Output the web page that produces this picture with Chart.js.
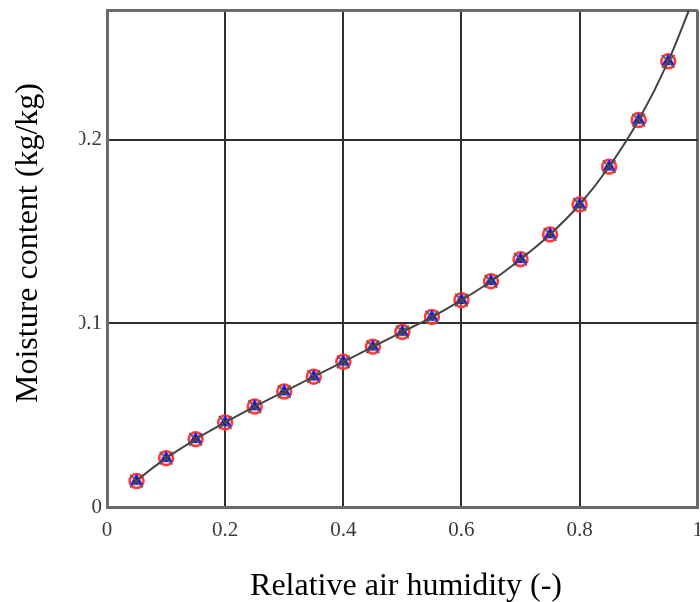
<!DOCTYPE html>
<html>
<head>
<meta charset="utf-8">
<script src="https://cdn.jsdelivr.net/npm/chart.js@4/dist/chart.umd.min.js"></script>
<style>
  html, body { margin: 0; padding: 0; background: #fff; overflow: hidden; }
  /* the canvas is a bit wider than the window so the "1" label falls off the edge */
  #wrap { width: 700px; height: 602px; overflow: hidden; }
</style>
</head>
<body>
<div id="wrap"><canvas id="sorption" width="714" height="602"></canvas></div>
<script>
// relative humidity of the measured points
const humidity = [0.05, 0.10, 0.15, 0.20, 0.25, 0.30, 0.35, 0.40, 0.45, 0.50,
                  0.55, 0.60, 0.65, 0.70, 0.75, 0.80, 0.85, 0.90, 0.95];
// moisture content (kg/kg)
const moisture = [0.0141, 0.0266, 0.0369, 0.0461, 0.0547, 0.0629, 0.0710, 0.0791, 0.0873, 0.0954,
                  0.1035, 0.1127, 0.1230, 0.1350, 0.1485, 0.1648, 0.1854, 0.2108, 0.2428];
// fitted curve, same points plus where it leaves the top of the plot
const curveX = [0.045, ...humidity, 0.985];
const curveY = [0.0125, ...moisture, 0.2705];

const xTicks = [0, 0.2, 0.4, 0.6, 0.8, 1];
const yTicks = [0, 0.1, 0.2];
const yMax = 0.2705;

const xTitle = 'Relative air humidity (-)';
const yTitle = 'Moisture content (kg/kg)';

const toPoints = (xs, ys) => xs.map((x, i) => ({ x: x, y: ys[i] }));

const serif = '"Liberation Serif", "Times New Roman", serif';

// axis titles drawn by hand so they sit where the original has them,
// and the left part of the y labels is cut off like in the original
const titlesAndCrop = {
    id: 'titlesAndCrop',
    afterDraw(chart) {
        const y = chart.scales.y;
        const ctx = chart.ctx;
        ctx.save();
        ctx.fillStyle = '#fff';
        yTicks.forEach(v => {
            if (v === 0) return;
            const py = y.getPixelForValue(v);
            ctx.fillRect(48, py - 14, 31, 28);
        });
        ctx.fillStyle = '#000';
        ctx.font = '32px ' + serif;
        ctx.textAlign = 'center';
        ctx.textBaseline = 'alphabetic';
        ctx.fillText(xTitle, 406, 595);
        ctx.translate(37, 243);
        ctx.rotate(-Math.PI / 2);
        ctx.fillText(yTitle, 0, 0);
        ctx.restore();
    }
};

new Chart(document.getElementById('sorption'), {
    type: 'scatter',
    data: {
        datasets: [
            {
                type: 'line',
                data: toPoints(curveX, curveY),
                borderColor: '#454545',
                borderWidth: 2,
                pointRadius: 0,
                tension: 0.4,
                cubicInterpolationMode: 'monotone',
                fill: false
            },
            {
                data: toPoints(humidity, moisture),
                pointStyle: 'crossRot',
                pointRadius: 9,
                borderColor: '#5a5a5a',
                borderWidth: 1.5
            },
            {
                data: toPoints(humidity, moisture),
                pointStyle: 'triangle',
                pointRadius: 6,
                borderColor: '#2020ff',
                backgroundColor: '#1a1a70',
                borderWidth: 1.5
            },
            {
                data: toPoints(humidity, moisture),
                pointStyle: 'circle',
                pointRadius: 7,
                borderColor: 'rgba(255,50,50,0.95)',
                backgroundColor: 'rgba(255,140,140,0.45)',
                borderWidth: 2.5
            }
        ]
    },
    options: {
        responsive: false,
        animation: false,
        layout: { padding: { top: 8, right: 0, left: 0, bottom: 0 } },
        plugins: { legend: { display: false }, tooltip: { enabled: false } },
        scales: {
            x: {
                type: 'linear',
                min: 0,
                max: 1,
                afterBuildTicks: s => { s.ticks = xTicks.map(v => ({ value: v })); },
                afterFit: s => { s.height = 95; },
                grid: {
                    drawTicks: false,
                    color: ctx => (ctx.tick && ctx.tick.value === 1) ? '#6a6a6a' : '#2e2e2e',
                    lineWidth: ctx => (ctx.tick && ctx.tick.value === 1) ? 3 : 2
                },
                border: { color: '#6a6a6a', width: 3 },
                ticks: {
                    padding: 11,
                    maxRotation: 0,
                    color: '#3a3a3a',
                    font: { family: serif, size: 21 },
                    callback: v => String(v)
                }
            },
            y: {
                type: 'linear',
                min: 0,
                max: yMax,
                afterBuildTicks: s => { s.ticks = [...yTicks, yMax].map(v => ({ value: v })); },
                afterFit: s => { s.width = 107; s.paddingTop = 0; s.paddingBottom = 0; },
                grid: {
                    drawTicks: false,
                    color: ctx => (ctx.tick && ctx.tick.value === yMax) ? '#6a6a6a' : '#2e2e2e',
                    lineWidth: ctx => (ctx.tick && ctx.tick.value === yMax) ? 3 : 2
                },
                border: { color: '#6a6a6a', width: 3 },
                ticks: {
                    padding: 5,
                    color: '#3a3a3a',
                    font: { family: serif, size: 21 },
                    callback: v => (v === yMax ? '' : String(v))
                }
            }
        }
    },
    plugins: [titlesAndCrop]
});
</script>
</body>
</html>
